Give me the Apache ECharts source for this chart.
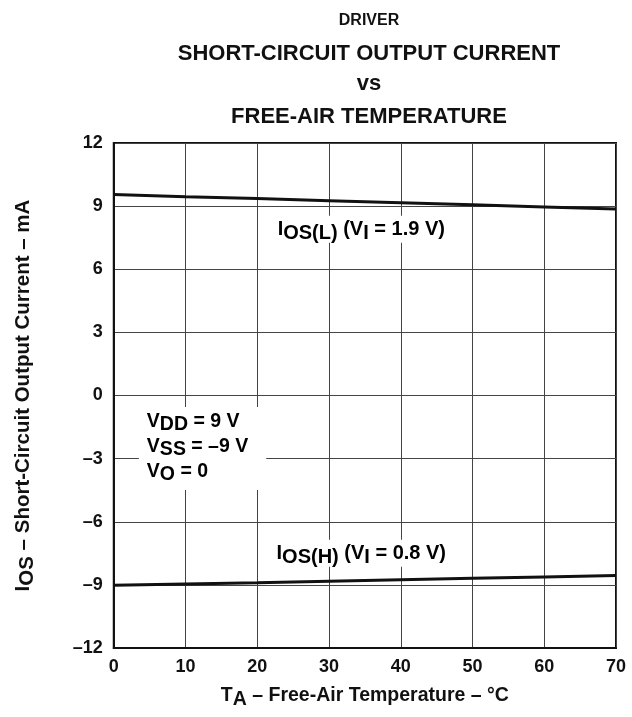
<!DOCTYPE html>
<html><head><meta charset="utf-8">
<script src="https://cdn.jsdelivr.net/npm/echarts@6/dist/echarts.min.js"></script>
<style>html,body{margin:0;padding:0;background:#fff}#c{width:632px;height:717px}</style>
</head><body><div id="c"></div>
<script>
const temps = [0, 10, 20, 30, 40, 50, 60, 70];
const iosL = [9.55, 9.45, 9.36, 9.26, 9.16, 9.06, 8.96, 8.86];
const iosH = [-9.02, -8.96, -8.9, -8.83, -8.76, -8.69, -8.62, -8.55];
const xTicks = [0, 10, 20, 30, 40, 50, 60, 70];
const yTicks = [-12, -9, -6, -3, 0, 3, 6, 9, 12];

const F = 'Liberation Sans, Arial, Helvetica, sans-serif';
const C = '#111';
const chart = echarts.init(document.getElementById('c'), null, {renderer: 'canvas'});
function mkRich(fs, off, lh) {
  lh = lh || fs + 3;
  return {
    b: {fontFamily: F, fontWeight: 'bold', fontSize: fs, color: C, lineHeight: lh},
    s: {fontFamily: F, fontWeight: 'bold', fontSize: fs, color: C, lineHeight: lh, padding: [off, 0, 0, 0]}
  };
}
const tStyle = fs => ({fontFamily: F, fontWeight: 'bold', fontSize: fs, color: C, lineHeight: fs + 4});
const option = {
  animation: false,
  backgroundColor: '#fff',
  title: [
    {text: 'DRIVER', left: 364, top: 6, textAlign: 'center', textStyle: tStyle(16)},
    {text: 'SHORT-CIRCUIT OUTPUT CURRENT', left: 364, top: 36, textAlign: 'center', textStyle: tStyle(22)},
    {text: 'vs', left: 364, top: 66, textAlign: 'center', textStyle: tStyle(22)},
    {text: 'FREE-AIR TEMPERATURE', left: 364, top: 99, textAlign: 'center', textStyle: tStyle(22)}
  ],
  grid: {left: 112, right: 16, top: 143, bottom: 69, show: true, borderColor: C, borderWidth: 2, backgroundColor: 'transparent'},
  xAxis: {
    type: 'value', min: 0, max: 70, interval: 10,
    axisLine: {show: true, onZero: false, lineStyle: {color: C, width: 2}},
    axisTick: {show: false},
    splitLine: {show: true, lineStyle: {color: '#444', width: 1}},
    axisLabel: {fontFamily: F, fontWeight: 'bold', fontSize: 18, color: C, margin: 10,
      formatter: v => xTicks.includes(v) ? String(v) : ''},
    name: '{b|T}{s|A}{b| – Free-Air Temperature – °C}',
    nameLocation: 'middle', nameGap: 33,
    nameTextStyle: {rich: mkRich(19.5, 9)}
  },
  yAxis: {
    type: 'value', min: -12, max: 12, interval: 3,
    axisLine: {show: true, onZero: false, lineStyle: {color: C, width: 2}},
    axisTick: {show: false},
    splitLine: {show: true, lineStyle: {color: '#444', width: 1}},
    axisLabel: {fontFamily: F, fontWeight: 'bold', fontSize: 18, color: C, margin: 11,
      formatter: v => yTicks.includes(v) ? String(v).replace('-', '–') : ''},
    name: '{b|I}{s|OS}{b| – Short-Circuit Output Current – mA}',
    nameLocation: 'middle', nameGap: 79, nameRotate: 90,
    nameTextStyle: {rich: mkRich(20.5, 9)}
  },
  series: [
    {type: 'line', data: temps.map((t, i) => [t, iosL[i]]), showSymbol: false,
      lineStyle: {color: C, width: 3}, z: 3},
    {type: 'line', data: temps.map((t, i) => [t, iosH[i]]), showSymbol: false,
      lineStyle: {color: C, width: 3}, z: 3}
  ]
};
chart.setOption(option);

const richL = mkRich(20, 9);
const pL = chart.convertToPixel('grid', [34.5, 7.9]);
const pH = chart.convertToPixel('grid', [34.5, -7.5]);
const pV = chart.convertToPixel('grid', [3.5, -0.55]);
chart.setOption({
  graphic: [
    {type: 'text', x: pL[0], y: pL[1], z: 10,
      style: {text: '{b|I}{s|OS(L)}{b| (V}{s|I}{b| = 1.9 V)}', rich: richL, align: 'center', verticalAlign: 'middle',
        backgroundColor: '#fff', padding: [2, 8, 2, 8]}},
    {type: 'text', x: pH[0], y: pH[1], z: 10,
      style: {text: '{b|I}{s|OS(H)}{b| (V}{s|I}{b| = 0.8 V)}', rich: richL, align: 'center', verticalAlign: 'middle',
        backgroundColor: '#fff', padding: [2, 8, 2, 8]}},
    {type: 'text', x: pV[0], y: pV[1], z: 10,
      style: {text: '{b|V}{s|DD}{b| = 9 V}\n{b|V}{s|SS}{b| = –9 V}\n{b|V}{s|O}{b| = 0}', rich: mkRich(19.5, 7, 25), align: 'left', verticalAlign: 'top',
        backgroundColor: '#fff', padding: [2, 18, 6, 8]}}
  ]
});
</script></body></html>
